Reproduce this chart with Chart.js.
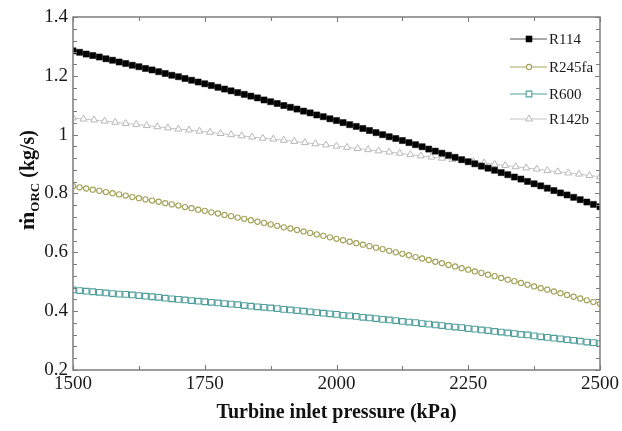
<!DOCTYPE html>
<html><head><meta charset="utf-8">
<script src="https://cdn.jsdelivr.net/npm/chart.js@4"></script>
<style>html,body{margin:0;padding:0;background:#fff}</style>
</head><body>
<canvas id="c" width="622" height="431"></canvas>
<script>
const pressure = [1500,1512.5,1525,1537.5,1550,1562.5,1575,1587.5,1600,1612.5,1625,1637.5,1650,1662.5,1675,1687.5,1700,1712.5,1725,1737.5,1750,1762.5,1775,1787.5,1800,1812.5,1825,1837.5,1850,1862.5,1875,1887.5,1900,1912.5,1925,1937.5,1950,1962.5,1975,1987.5,2000,2012.5,2025,2037.5,2050,2062.5,2075,2087.5,2100,2112.5,2125,2137.5,2150,2162.5,2175,2187.5,2200,2212.5,2225,2237.5,2250,2262.5,2275,2287.5,2300,2312.5,2325,2337.5,2350,2362.5,2375,2387.5,2400,2412.5,2425,2437.5,2450,2462.5,2475,2487.5,2500];
const pressureR142b = [1500,1520,1540,1560,1580,1600,1620,1640,1660,1680,1700,1720,1740,1760,1780,1800,1820,1840,1860,1880,1900,1920,1940,1960,1980,2000,2020,2040,2060,2080,2100,2120,2140,2160,2180,2200,2220,2240,2260,2280,2300,2320,2340,2360,2380,2400,2420,2440,2460,2480,2500];
const r114 = [1.285,1.280,1.274,1.269,1.264,1.258,1.253,1.247,1.242,1.236,
1.231,1.225,1.220,1.214,1.208,1.202,1.197,1.191,1.185,1.179,
1.173,1.167,1.161,1.155,1.149,1.143,1.137,1.131,1.125,1.118,
1.112,1.106,1.099,1.093,1.087,1.080,1.074,1.067,1.061,1.054,
1.048,1.041,1.034,1.028,1.021,1.014,1.007,1.000,0.993,0.987,
0.980,0.973,0.966,0.959,0.951,0.944,0.937,0.930,0.923,0.915,
0.908,0.901,0.893,0.886,0.879,0.871,0.864,0.856,0.849,0.841,
0.833,0.826,0.818,0.810,0.802,0.795,0.787,0.779,0.771,0.763,
0.755];
const r245fa = [0.825,0.821,0.817,0.813,0.809,0.805,0.801,0.797,0.793,0.788,
0.784,0.780,0.776,0.772,0.767,0.763,0.759,0.754,0.750,0.745,
0.741,0.736,0.732,0.727,0.723,0.718,0.714,0.709,0.704,0.700,
0.695,0.690,0.685,0.681,0.676,0.671,0.666,0.661,0.656,0.651,
0.646,0.641,0.636,0.631,0.626,0.621,0.616,0.611,0.605,0.600,
0.595,0.590,0.584,0.579,0.574,0.568,0.563,0.557,0.552,0.546,
0.541,0.535,0.530,0.524,0.519,0.513,0.507,0.502,0.496,0.490,
0.484,0.478,0.473,0.467,0.461,0.455,0.449,0.443,0.437,0.431,
0.425];
const r600 = [0.472,0.470,0.468,0.466,0.464,0.462,0.460,0.458,0.457,0.455,
0.453,0.451,0.449,0.447,0.444,0.442,0.440,0.438,0.436,0.434,
0.432,0.430,0.428,0.426,0.424,0.422,0.419,0.417,0.415,0.413,
0.411,0.409,0.406,0.404,0.402,0.400,0.398,0.395,0.393,0.391,
0.389,0.386,0.384,0.382,0.379,0.377,0.375,0.372,0.370,0.368,
0.365,0.363,0.361,0.358,0.356,0.353,0.351,0.348,0.346,0.344,
0.341,0.339,0.336,0.334,0.331,0.329,0.326,0.324,0.321,0.319,
0.316,0.313,0.311,0.308,0.306,0.303,0.301,0.298,0.295,0.293,
0.290];
const r142b = [1.057,1.053,1.050,1.046,1.042,1.038,1.035,1.031,1.027,1.023,
1.019,1.016,1.012,1.008,1.004,1.000,0.996,0.992,0.988,0.985,
0.981,0.977,0.973,0.969,0.965,0.961,0.957,0.953,0.949,0.945,
0.941,0.937,0.932,0.928,0.924,0.920,0.916,0.912,0.908,0.904,
0.899,0.895,0.891,0.887,0.883,0.878,0.874,0.870,0.866,0.861,
0.857];
const seriesNames = ['R114','R245fa','R600','R142b'];
const xTickValues = [1500,1750,2000,2250,2500];
const xTickLabels = ['1500','1750','2000','2250','2500'];
const xMinorTicks = [1625,1875,2125,2375];
const yTickValues = [0.2,0.4,0.6,0.8,1.0,1.2,1.4];
const yTickLabels = ['0.2','0.4','0.6','0.8','1','1.2','1.4'];
const yMinorStep = 0.04;
const xTitle = 'Turbine inlet pressure (kPa)';

const SERIF = '"Liberation Serif", "Times New Roman", serif';
const styles = [
  {line:'#555555', fill:'#000000', stroke:'#000000', shape:'rect', r:4.3, bw:0.5},
  {line:'#a3a35a', fill:'#ffffff', stroke:'#a3a35a', shape:'circle', r:2.6, bw:1.1},
  {line:'#4f9f9b', fill:'#ffffff', stroke:'#4f9f9b', shape:'rect', r:4.0, bw:1.1},
  {line:'#c4c4c4', fill:'#ffffff', stroke:'#b8b8b8', shape:'triangle', r:4.0, bw:1.0}
];
const xs = [pressure, pressure, pressure, pressureR142b];
const ys = [r114, r245fa, r600, r142b];

function toPts(xArr, yArr){ return xArr.map((p,i)=>({x:p, y:yArr[i]})); }

function drawMarker(ctx, s, x, y){
  ctx.beginPath();
  if (s.shape==='rect'){ const h=s.r*Math.SQRT1_2; ctx.rect(x-h,y-h,2*h,2*h); }
  else if (s.shape==='circle'){ ctx.arc(x,y,s.r,0,Math.PI*2); }
  else { for(let k=0;k<3;k++){ const a=k*2*Math.PI/3; const px=x+Math.sin(a)*s.r, py=y-Math.cos(a)*s.r; k?ctx.lineTo(px,py):ctx.moveTo(px,py);} ctx.closePath(); }
  ctx.fillStyle=s.fill; ctx.fill();
  ctx.strokeStyle=s.stroke; ctx.lineWidth=s.bw; ctx.stroke();
}

const decor = {
  id:'decor',
  afterDraw(chart){
    const {ctx, chartArea:a, scales:{x,y}} = chart;
    ctx.save();
    // frame
    ctx.strokeStyle='#7d7d7d'; ctx.lineWidth=1.5;
    ctx.strokeRect(a.left, a.top, a.right-a.left, a.bottom-a.top);
    // ticks (inward)
    ctx.lineWidth=1.1; ctx.beginPath();
    const xt=(v,len)=>{const px=Math.round(x.getPixelForValue(v))+0.5; ctx.moveTo(px,a.bottom); ctx.lineTo(px,a.bottom-len); ctx.moveTo(px,a.top); ctx.lineTo(px,a.top+len);};
    const yt=(v,len)=>{const py=Math.round(y.getPixelForValue(v))+0.5; ctx.moveTo(a.left,py); ctx.lineTo(a.left+len,py); ctx.moveTo(a.right,py); ctx.lineTo(a.right-len,py);};
    xTickValues.forEach(v=>xt(v,5)); xMinorTicks.forEach(v=>xt(v,4));
    yTickValues.forEach(v=>yt(v,5));
    for(let v=0.2; v<1.4; v+=yMinorStep){ yt(v,4); }
    ctx.stroke();
    // legend
    const lx0=510, lx1=547, mx=529, tx=549, rows=[39,67,94,119];
    seriesNames.forEach((n,i)=>{
      const s=styles[i], yy=rows[i];
      ctx.strokeStyle=s.line; ctx.lineWidth=1.2;
      ctx.beginPath(); ctx.moveTo(lx0,yy); ctx.lineTo(lx1,yy); ctx.stroke();
      drawMarker(ctx,s,mx,yy);
      ctx.fillStyle='#1a1a1a'; ctx.font='15px '+SERIF; ctx.textAlign='left'; ctx.textBaseline='middle';
      ctx.fillText(n,tx,yy+1);
    });
    // x title
    ctx.fillStyle='#111'; ctx.font='bold 20px '+SERIF; ctx.textAlign='center'; ctx.textBaseline='middle';
    ctx.fillText(xTitle, (a.left+a.right)/2, 413);
    // y title with subscript
    ctx.translate(34, 180); ctx.rotate(-Math.PI/2);
    ctx.textAlign='left'; ctx.textBaseline='alphabetic';
    const f1='bold 22px '+SERIF, f2='bold 13px '+SERIF, f3='bold 20px '+SERIF;
    ctx.font=f1; const w1=ctx.measureText('\u1E41').width;
    ctx.font=f2; const w2=ctx.measureText('ORC').width;
    ctx.font=f3; const w3=ctx.measureText(' (kg/s)').width;
    let sx=-(w1+w2+w3)/2;
    ctx.font=f1; ctx.fillText('\u1E41', sx, 0); sx+=w1;
    ctx.font=f2; ctx.fillText('ORC', sx, 5); sx+=w2;
    ctx.font=f3; ctx.fillText(' (kg/s)', sx, 0);
    ctx.restore();
  }
};

new Chart(document.getElementById('c'), {
  type:'line',
  data:{
    datasets: seriesNames.map((n,i)=>({
      label:n,
      data:toPts(xs[i], ys[i]),
      borderColor:styles[i].line,
      borderWidth:1,
      pointStyle:styles[i].shape,
      pointRadius:styles[i].r,
      pointBackgroundColor:styles[i].fill,
      pointBorderColor:styles[i].stroke,
      pointBorderWidth:styles[i].bw,
      tension:0,
      clip:0
    }))
  },
  options:{
    responsive:false, animation:false, devicePixelRatio:1,
    layout:{padding:{left:0,right:21,top:17,bottom:0}},
    plugins:{legend:{display:false}, tooltip:{enabled:false}},
    scales:{
      x:{type:'linear', min:1500, max:2500,
        afterFit(s){ s.height=61; },
        afterBuildTicks(s){ s.ticks = xTickValues.map(v=>({value:v})); },
        ticks:{autoSkip:false, maxRotation:0, padding:3, color:'#1a1a1a',
          font:{family:SERIF, size:19},
          callback:(v)=>{const k=xTickValues.indexOf(v); return k>=0?xTickLabels[k]:'';}},
        grid:{display:false, drawTicks:false}, border:{display:false}},
      y:{type:'linear', min:0.2, max:1.4,
        afterFit(s){ s.width=73; },
        afterBuildTicks(s){ s.ticks = yTickValues.map(v=>({value:v})); },
        ticks:{autoSkip:false, padding:5, color:'#1a1a1a',
          font:{family:SERIF, size:19},
          callback:(v)=>{const k=yTickValues.findIndex(t=>Math.abs(t-v)<1e-6); return k>=0?yTickLabels[k]:'';}},
        grid:{display:false, drawTicks:false}, border:{display:false}}
    }
  },
  plugins:[decor]
});
</script>
</body></html>
